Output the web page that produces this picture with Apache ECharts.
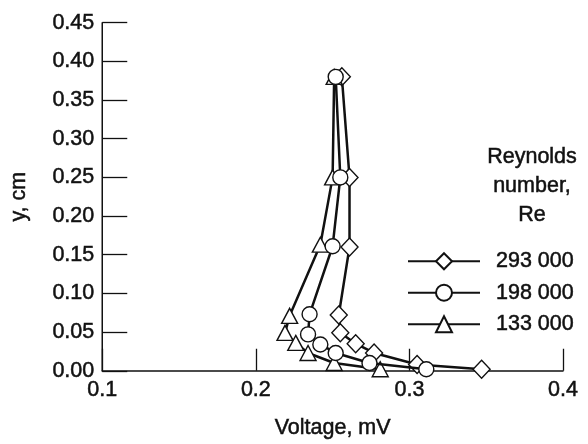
<!DOCTYPE html>
<html><head><meta charset="utf-8">
<script src="https://cdn.jsdelivr.net/npm/echarts@6/dist/echarts.min.js"></script>
<style>html,body{margin:0;padding:0;background:#fff}#c{width:588px;height:444px}</style>
</head><body><div id="c"></div>
<script>
var xTicks = [0.1, 0.2, 0.3, 0.4];
var yTicks = [0.00, 0.05, 0.10, 0.15, 0.20, 0.25, 0.30, 0.35, 0.40, 0.45];
var seriesNames = ['293 000', '198 000', '133 000'];
// Re = 293 000 (diamonds)
var v293 = [0.256, 0.261, 0.261, 0.254, 0.255, 0.265, 0.277, 0.305, 0.347];
var y293 = [0.380, 0.250, 0.160, 0.072, 0.049, 0.035, 0.023, 0.008, 0.002];
// Re = 198 000 (circles)
var v198 = [0.252, 0.255, 0.250, 0.235, 0.234, 0.242, 0.252, 0.274, 0.311];
var y198 = [0.380, 0.250, 0.161, 0.073, 0.047, 0.034, 0.023, 0.010, 0.002];
// Re = 133 000 (triangles)
var v133 = [0.251, 0.250, 0.242, 0.222, 0.219, 0.226, 0.234, 0.251, 0.281];
var y133 = [0.380, 0.250, 0.163, 0.071, 0.049, 0.036, 0.023, 0.010, 0.002];

function pairs(v, y) { return v.map(function (x, i) { return [x, y[i]]; }); }
var FONT = 'Liberation Sans';
var INK = '#111';
var TXT = { fontFamily: FONT, fontSize: 21.5, color: INK, textBorderColor: INK, textBorderWidth: 0.5 };
function ts(extra) { var o = {}; for (var k in TXT) o[k] = TXT[k]; for (var j in extra) o[j] = extra[j]; return o; }
function mk(name, v, y, sym, size, z) {
  return {
    name: name, type: 'line', data: pairs(v, y), z: z,
    symbol: sym, symbolSize: size, showAllSymbol: true,
    lineStyle: { color: INK, width: 2.5 },
    itemStyle: { color: '#fff', borderColor: INK, borderWidth: 1.4 },
    emphasis: { disabled: true }, animation: false
  };
}
var chart = echarts.init(document.getElementById('c'), null, { renderer: 'canvas' });
chart.setOption({
  animation: false,
  grid: { left: 100, right: 25, top: 22.7, bottom: 73, containLabel: false },
  xAxis: {
    type: 'value', min: xTicks[0], max: xTicks[xTicks.length - 1], interval: 0.1,
    name: 'Voltage, mV', nameLocation: 'middle', nameGap: 46,
    nameTextStyle: ts({}),
    axisLine: { show: true, onZero: false, lineStyle: { color: INK, width: 1.5 } },
    axisTick: { show: true, inside: true, length: 22, lineStyle: { color: INK, width: 1.3 } },
    axisLabel: ts({ margin: 8, formatter: function (v) { return v.toFixed(1); } }),
    splitLine: { show: false }
  },
  yAxis: {
    type: 'value', min: yTicks[0], max: yTicks[yTicks.length - 1], interval: 0.05,
    name: 'y, cm', nameLocation: 'middle', nameGap: 72, nameRotate: 90,
    nameTextStyle: ts({}),
    axisLine: { show: true, onZero: false, lineStyle: { color: INK, width: 1.5 } },
    axisTick: { show: true, inside: true, length: 25, lineStyle: { color: INK, width: 1.3 } },
    axisLabel: ts({ margin: 8, formatter: function (v) { return v.toFixed(2); } }),
    splitLine: { show: false }
  },
  legend: {
    orient: 'vertical', left: 402, top: 245, itemWidth: 72, itemHeight: 20, itemGap: 9,
    data: seriesNames,
    textStyle: ts({ padding: [0, 0, 0, 11] }),
    selectedMode: false
  },
  graphic: [{
    type: 'text', x: 532, y: 142.5,
    style: { text: 'Reynolds\nnumber,\nRe', align: 'center', verticalAlign: 'top',
      font: '21.5px "Liberation Sans"', fill: INK, stroke: INK, lineWidth: 0.5, lineHeight: 29 }
  }],
  series: [
    mk(seriesNames[0], v293, y293, 'diamond', [17, 18], 2),
    mk(seriesNames[1], v198, y198, 'circle', 15, 4),
    mk(seriesNames[2], v133, y133, 'triangle', [16, 15], 3)
  ]
});
</script></body></html>
